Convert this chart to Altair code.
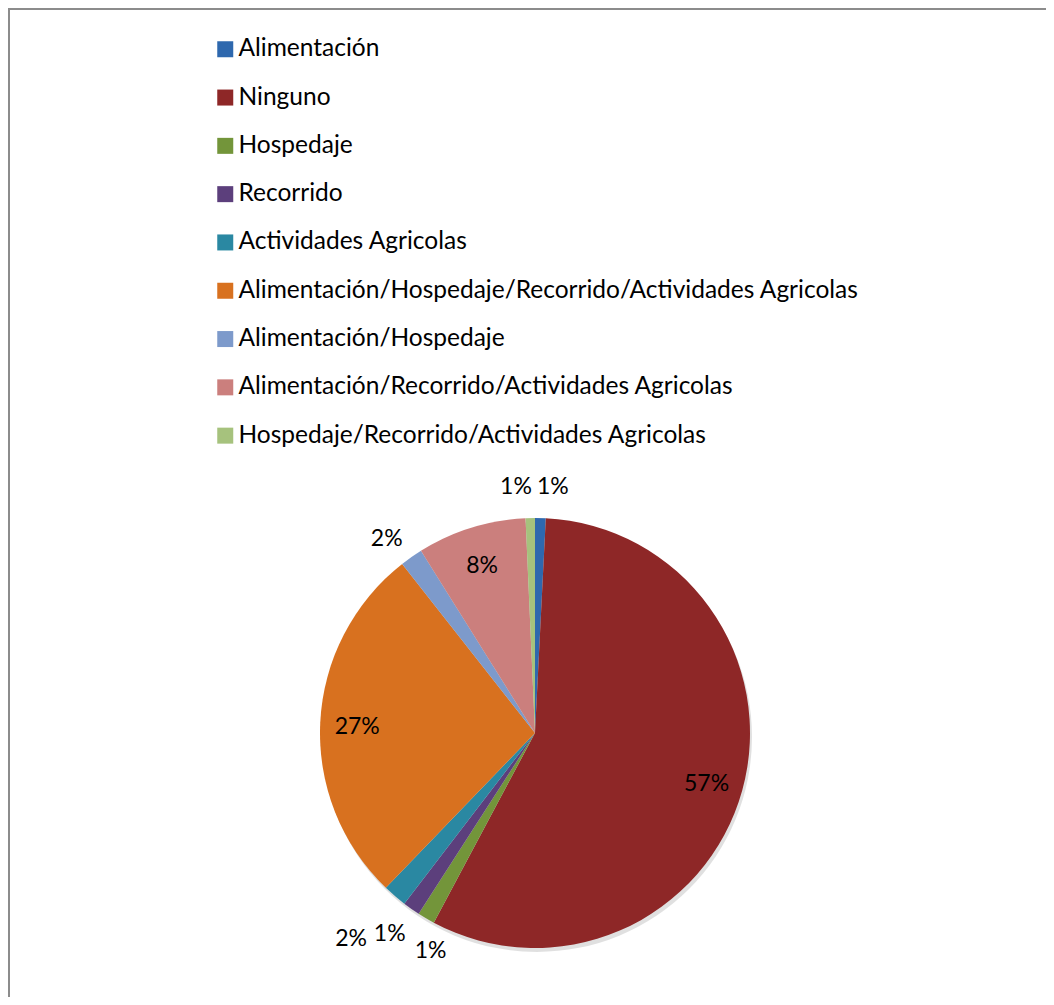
import altair as alt
import pandas as pd

categories = [
    "Alimentación",
    "Ninguno",
    "Hospedaje",
    "Recorrido",
    "Actividades Agricolas",
    "Alimentación/Hospedaje/Recorrido/Actividades Agricolas",
    "Alimentación/Hospedaje",
    "Alimentación/Recorrido/Actividades Agricolas",
    "Hospedaje/Recorrido/Actividades Agricolas",
]
values = [0.8, 57.0, 1.3, 1.3, 1.8, 27.2, 1.7, 8.2, 0.7]
labels = ["1%", "57%", "1%", "1%", "2%", "27%", "2%", "8%", "1%"]
colors = ["#2E68AE", "#8E2727", "#73953A", "#5C3F7C", "#2A88A2",
          "#D8711F", "#7D9ACB", "#CB7F7D", "#A6C27D"]

df = pd.DataFrame({"cat": categories, "value": values, "label": labels,
                   "idx": list(range(len(categories)))})

FONT = "Lato"
CX, CY, R = 527, 725, 215

# label collision nudges (layout only), like Excel's best-fit jostling
nudge_x = ("datum.idx == 4 ? -18 : datum.idx == 2 ? 28 : datum.idx == 3 ? 3 : "
           "datum.idx == 0 ? -4 : datum.idx == 8 ? 2 : 0")
nudge_y = ("datum.idx == 4 ? 17 : datum.idx == 2 ? 5 : datum.idx == 3 ? -2 : "
           "datum.idx == 0 ? -7 : datum.idx == 8 ? -7 : datum.idx == 6 ? 3 : 0")

base = alt.Chart(df)

pie = base.mark_arc(outerRadius=R, strokeWidth=0).encode(
    theta=alt.Theta("value:Q", stack=True),
    order=alt.Order("idx:Q"),
    x=alt.value(CX),
    y=alt.value(CY),
    color=alt.Color(
        "cat:N",
        scale=alt.Scale(domain=categories, range=colors),
        sort=categories,
        legend=alt.Legend(
            title=None,
            orient="none",
            legendX=205,
            legendY=29,
            symbolType="square",
            symbolSize=256,
            symbolStrokeWidth=0,
            labelFont=FONT,
            labelFontSize=24.5,
            labelColor="#000000",
            labelLimit=900,
            rowPadding=23.3,
            labelOffset=1,
        ),
    ),
)

shadow = base.mark_arc(outerRadius=R, color="#000000", opacity=0.12).encode(
    theta=alt.Theta("sum(value):Q"),
    x=alt.value(CX + 2),
    y=alt.value(CY + 4),
)

text = base.transform_window(
    cum="sum(value)", sort=[alt.SortField("idx")]
).transform_joinaggregate(
    total="sum(value)"
).transform_calculate(
    a="2*PI*(datum.cum - datum.value/2)/datum.total",
    inside="datum.value > 5",
).transform_calculate(
    r="datum.inside ? 178 : 230",
    hw="datum.inside ? 0 : 16",
    hh="datum.inside ? 0 : 12",
).transform_calculate(
    px=f"{CX} + datum.r*sin(datum.a) + (sin(datum.a) >= 0 ? 1 : -1)*datum.hw + ({nudge_x})",
    py=f"{CY} - datum.r*cos(datum.a) - (cos(datum.a) >= 0 ? 1 : -1)*datum.hh + 3 + ({nudge_y})",
).mark_text(font=FONT, fontSize=23, color="#000000").encode(
    x=alt.X("px:Q", scale=None),
    y=alt.Y("py:Q", scale=None),
    text="label:N",
)

frame_v = base.transform_filter("datum.idx == 0").mark_rule(
    color="#8C8C8C", strokeWidth=2).encode(x=alt.value(1))
frame_h = base.transform_filter("datum.idx == 0").mark_rule(
    color="#8C8C8C", strokeWidth=2).encode(y=alt.value(1))

chart = alt.layer(shadow, pie, text, frame_v, frame_h).properties(
    width=1038, height=989,
    autosize=alt.AutoSizeParams(type="none"),
    padding=0,
).configure_view(stroke=None).configure(background="white")

chart.save("out.html", embed_options={"renderer": "svg", "actions": False})
